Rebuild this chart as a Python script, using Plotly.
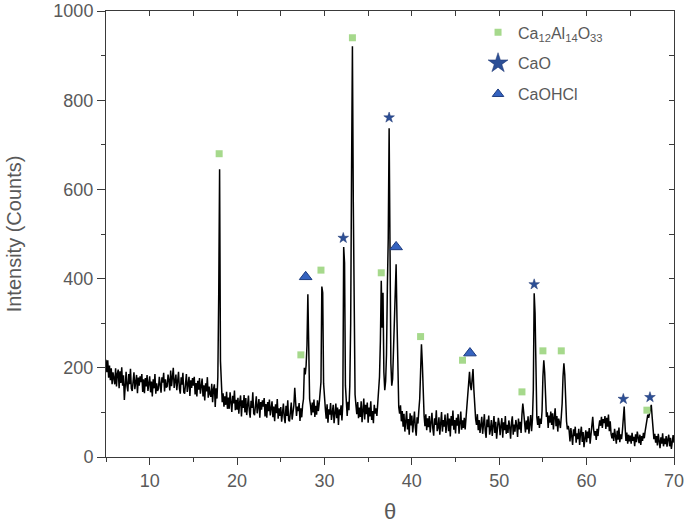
import numpy as np
import plotly.graph_objects as go

# XRD pattern, 5-70 deg in 0.1 deg steps (one row = one degree)
two_theta = np.round(np.arange(5.0, 70.01, 0.1), 1)
counts = [
    218, 190, 217, 178, 205, 172, 199, 163, 190, 168,   # 5
    163, 199, 158, 187, 196, 154, 192, 166, 201, 160,   # 6
    183, 128, 174, 191, 160, 147, 186, 163, 198, 154,   # 7
    148, 174, 190, 152, 168, 184, 143, 178, 160, 181,   # 8
    168, 186, 146, 174, 143, 177, 158, 184, 148, 171,   # 9
    181, 145, 169, 136, 174, 154, 186, 142, 165, 148,   # 10
    153, 180, 159, 144, 179, 167, 189, 147, 174, 156,   # 11
    158, 185, 172, 149, 194, 159, 179, 200, 155, 173,   # 12
    185, 150, 171, 191, 154, 142, 179, 162, 189, 145,   # 13
    142, 169, 186, 146, 163, 180, 137, 172, 155, 177,   # 14
    160, 180, 140, 166, 136, 171, 151, 177, 142, 163,   # 15
    176, 136, 161, 127, 165, 147, 179, 133, 158, 141,   # 16
    135, 164, 123, 152, 163, 112, 154, 131, 180, 365,   # 17
    645, 215, 140, 123, 143, 113, 136, 117, 146, 108,   # 18
    133, 108, 145, 117, 101, 137, 120, 149, 105, 128,   # 19
    106, 133, 97, 123, 138, 91, 127, 110, 139, 100,     # 20
    132, 94, 120, 138, 104, 88, 126, 110, 145, 98,      # 21
    94, 120, 136, 98, 114, 130, 88, 123, 106, 127,      # 22
    113, 132, 91, 119, 88, 123, 103, 129, 93, 116,      # 23
    125, 89, 113, 80, 118, 98, 130, 86, 109, 92,        # 24
    112, 79, 103, 120, 89, 76, 115, 92, 127, 83,        # 25
    80, 106, 122, 84, 100, 116, 155, 109, 92, 113,      # 26
    103, 121, 81, 109, 89, 116, 130, 200, 185, 205,     # 27
    250, 365, 240, 130, 116, 94, 122, 100, 129, 90,     # 28
    115, 95, 127, 103, 120, 140, 168, 382, 368, 165,    # 29
    125, 108, 86, 118, 77, 107, 95, 121, 83, 104,       # 30
    117, 76, 101, 120, 87, 111, 72, 107, 94, 116,       # 31
    82, 120, 471, 435, 160, 112, 92, 124, 105, 160,     # 32
    300, 637, 921, 570, 280, 140, 117, 96, 123, 87,     # 33
    111, 90, 125, 78, 104, 131, 84, 117, 96, 122,       # 34
    77, 111, 91, 125, 83, 103, 76, 117, 97, 109,        # 35
    92, 118, 140, 180, 260, 395, 290, 368, 190, 150,    # 36
    170, 230, 382, 491, 737, 381, 210, 160, 175, 240,   # 37
    300, 360, 432, 307, 160, 112, 97, 116, 80, 103,     # 38
    68, 97, 57, 89, 103, 62, 85, 50, 98, 71,            # 39
    93, 55, 81, 102, 66, 48, 89, 75, 105, 130,          # 40
    190, 253, 210, 110, 93, 69, 96, 60, 87, 67,         # 41
    92, 55, 81, 99, 64, 48, 87, 72, 105, 58,            # 42
    66, 89, 50, 79, 101, 57, 83, 68, 95, 54,            # 43
    80, 98, 58, 86, 46, 92, 70, 104, 61, 83,            # 44
    53, 88, 70, 96, 52, 78, 102, 61, 82, 65,            # 45
    88, 62, 92, 105, 130, 165, 191, 160, 150, 175,      # 46
    197, 150, 105, 85, 72, 96, 60, 83, 54, 78,          # 47
    90, 52, 76, 96, 58, 43, 84, 67, 93, 50,             # 48
    62, 83, 47, 74, 92, 54, 79, 41, 71, 88,             # 49
    75, 49, 71, 87, 43, 78, 60, 92, 52, 72,             # 50
    54, 82, 67, 41, 77, 91, 50, 73, 57, 83,             # 51
    70, 45, 86, 62, 79, 54, 95, 120, 100, 72,           # 52
    55, 82, 62, 91, 52, 75, 94, 58, 85, 150,            # 53
    367, 323, 180, 90, 72, 92, 65, 86, 74, 103,         # 54
    180, 217, 190, 110, 90, 100, 65, 93, 77, 102,       # 55
    72, 98, 62, 89, 109, 69, 92, 57, 86, 77,            # 56
    65, 90, 120, 180, 210, 185, 115, 80, 62, 70,        # 57
    59, 35, 65, 42, 27, 62, 47, 68, 32, 53,             # 58
    40, 63, 27, 53, 68, 34, 56, 22, 50, 60,             # 59
    33, 57, 42, 65, 30, 51, 70, 90, 62, 48,             # 60
    58, 38, 63, 47, 68, 82, 70, 90, 65, 85,             # 61
    76, 92, 63, 88, 68, 95, 58, 80, 52, 42,             # 62
    54, 36, 63, 45, 30, 59, 39, 66, 33, 51,             # 63
    40, 60, 85, 113, 70, 36, 55, 30, 50, 35,            # 64
    48, 30, 54, 36, 45, 24, 51, 33, 57, 39,             # 65
    31, 50, 27, 47, 36, 54, 42, 58, 70, 85,             # 66
    95, 88, 100, 110, 117, 90, 55, 40, 52, 32,          # 67
    47, 26, 52, 33, 20, 44, 30, 53, 24, 41,             # 68
    29, 47, 23, 40, 50, 24, 43, 18, 38, 49,             # 69
    32,                                                 # 70
]

# phase markers
mayenite_x = [17.95, 27.3, 29.6, 33.2, 36.5, 41.0, 45.8, 52.6, 55.0, 57.1, 66.9]
mayenite_y = [680, 229, 419, 940, 413, 270, 217, 146, 238, 238, 105]
cao_x = [32.15, 37.4, 54.0, 64.2, 67.25]
cao_y = [491, 761, 387, 130, 134]
caohcl_x = [27.85, 38.2, 46.65]
caohcl_y = [404, 471, 233]

GREEN = '#a6d98c'
BLUE = '#2c4f96'
TXT = '#595959'
AX = '#3a3a3a'

fig = go.Figure()
fig.add_trace(go.Scatter(x=two_theta, y=counts, mode='lines',
                         line=dict(color='black', width=1.5),
                         showlegend=False, hoverinfo='skip'))

# markers on the peaks
fig.add_trace(go.Scatter(x=mayenite_x, y=mayenite_y, mode='markers', showlegend=False,
                         marker=dict(symbol='square', size=7, color=GREEN)))
fig.add_trace(go.Scatter(x=cao_x, y=cao_y, mode='markers', showlegend=False,
                         marker=dict(symbol='star', size=8, color=BLUE,
                                     line=dict(color='#1c3570', width=0.5))))
fig.add_trace(go.Scatter(x=caohcl_x, y=caohcl_y, mode='markers', showlegend=False,
                         marker=dict(symbol='triangle-up', size=11, color='#3563c0',
                                     line=dict(color='#1d3c80', width=1))))

# legend-only entries
fig.add_trace(go.Scatter(x=[None], y=[None], mode='markers', legendgroup='a',
                         name='Ca<sub>12</sub>Al<sub>14</sub>O<sub>33</sub>',
                         marker=dict(symbol='square', size=7, color=GREEN)))
fig.add_trace(go.Scatter(x=[None], y=[None], mode='markers', legendgroup='b', name='CaO',
                         marker=dict(symbol='star', size=15, color=BLUE,
                                     line=dict(color='#1c3570', width=0.5))))
fig.add_trace(go.Scatter(x=[None], y=[None], mode='markers', legendgroup='c', name='CaOHCl',
                         marker=dict(symbol='triangle-up', size=10, color='#3563c0',
                                     line=dict(color='#1d3c80', width=1))))

# dummy trace for the mirrored top/right axes
fig.add_trace(go.Scatter(x=two_theta, y=counts, xaxis='x2', yaxis='y2', mode='lines',
                         line=dict(width=0), opacity=0, showlegend=False, hoverinfo='skip'))

fig.update_layout(
    width=685, height=524,
    margin=dict(l=106, r=11, t=11, b=67),
    paper_bgcolor='white', plot_bgcolor='white',
    font=dict(family='Liberation Sans, Arial, sans-serif', color=TXT, size=18),
    legend=dict(x=0.655, y=0.99, xanchor='left', yanchor='top',
                bgcolor='rgba(0,0,0,0)', font=dict(size=16, color=TXT),
                tracegroupgap=7, itemsizing='trace'),
    xaxis=dict(range=[5, 70], dtick=10, tick0=0, ticks='outside', ticklen=7,
               tickwidth=1, tickcolor=AX, showline=True, linecolor=AX, linewidth=1,
               showgrid=False, zeroline=False, automargin=False,
               minor=dict(ticks='outside', dtick=5, tick0=0, ticklen=4, tickcolor=AX),
               title=dict(text='θ', font=dict(size=22, color=TXT), standoff=14)),
    yaxis=dict(range=[0, 1000], dtick=200, ticks='outside', ticklen=8,
               tickwidth=1, tickcolor=AX, showline=True, linecolor=AX, linewidth=1,
               showgrid=False, zeroline=False, automargin=False,
               minor=dict(ticks='outside', dtick=100, ticklen=4, tickcolor=AX),
               title=dict(text='Intensity (Counts)', font=dict(size=20, color=TXT),
                          standoff=26)),
    xaxis2=dict(range=[5, 70], overlaying='x', side='top', dtick=5, tick0=0,
                ticks='inside', ticklen=5, tickcolor=AX, showticklabels=False,
                showline=True, linecolor=AX, linewidth=1, showgrid=False,
                zeroline=False, automargin=False),
    yaxis2=dict(range=[0, 1000], overlaying='y', side='right', dtick=100,
                ticks='inside', ticklen=5, tickcolor=AX, showticklabels=False,
                showline=True, linecolor=AX, linewidth=1, showgrid=False,
                zeroline=False, automargin=False),
)

# the page's default body margin would push the figure 8px right and down
fig.write_html("out.html", config={'displayModeBar': False},
               post_script="document.body.style.margin='0';")
